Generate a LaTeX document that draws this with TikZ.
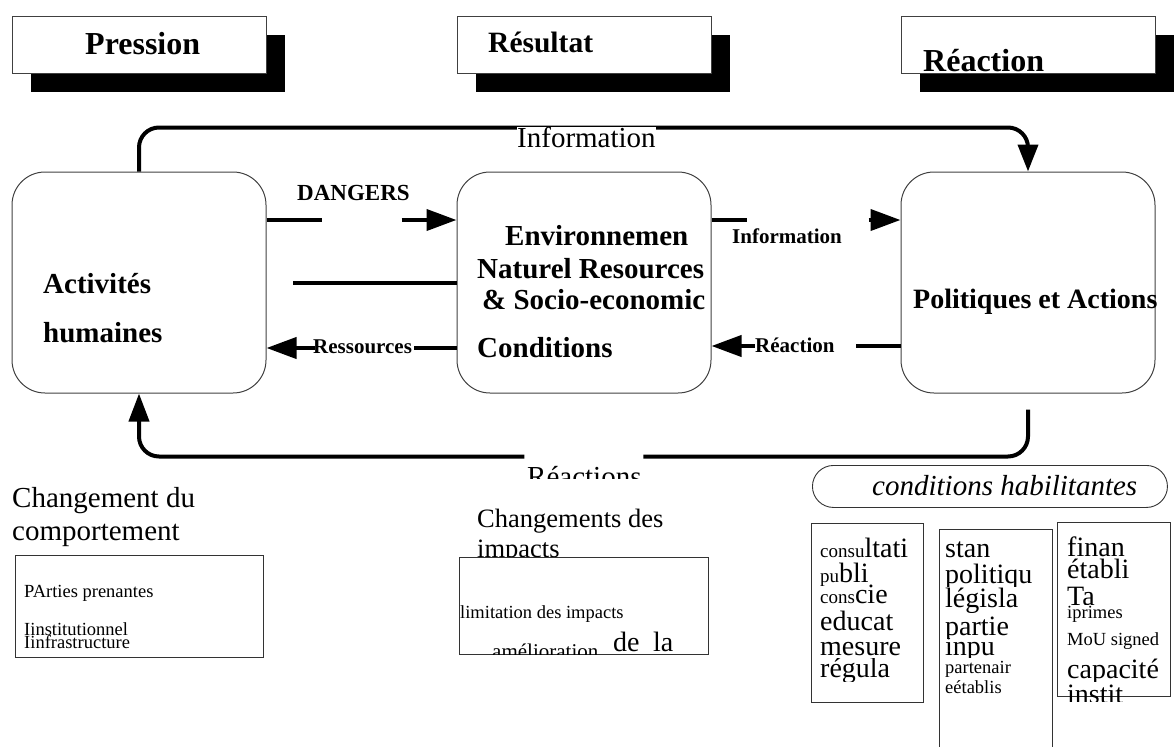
\documentclass[tikz,border=0pt]{standalone}
\usepackage{fontspec}
\setmainfont{Liberation Serif}
\usetikzlibrary{arrows.meta,shadows}
\tikzset{
  hdr/.style={draw=black!75, line width=0.9pt, fill=white, minimum width=254pt, minimum height=57pt, inner sep=0pt,
    drop shadow={shadow xshift=19pt, shadow yshift=-19pt, fill=black, opacity=1}},
  mainbox/.style={draw=black!75, line width=1pt, rounded corners=33pt, minimum width=254pt, minimum height=221pt, inner sep=0pt},
  wire/.style={line width=4pt},
  conn/.style={wire, -{Triangle[length=30pt,width=21pt]}},
  lbl/.style={inner sep=0pt, anchor=base west},
  pbox/.style={draw=black!80, line width=0.9pt, inner sep=0pt, anchor=north west},
  hfont/.style={font=\fontsize{32}{32}\selectfont\bfseries},
  bfont/.style={font=\fontsize{29}{29}\selectfont\bfseries},
  afont/.style={font=\fontsize{21}{21}\selectfont\bfseries},
  rfont/.style={font=\fontsize{29}{29}\selectfont},
  sfont/.style={font=\fontsize{18.5}{18.5}\selectfont},
  lfont/.style={font=\fontsize{28}{28}\selectfont}
}
\newcommand{\smtx}[1]{{\fontsize{19}{19}\selectfont #1}}
\begin{document}
\begin{tikzpicture}[x=1pt,y=-1pt]
\useasboundingbox (0,0) rectangle (1176,747);

% header boxes
\node[hdr] (hp) at (139,44.5) {};
\node[hdr] (hr) at (584,44.5) {};
\node[hdr] (hx) at (1028,44.5) {};
\node[lbl, hfont] (tp) at (85,54) {Pression};
\node[lbl, font=\fontsize{29.5}{29.5}\selectfont\bfseries] (tr) at (488,52) {Résultat};
\node[lbl, hfont] (tx) at (923,71) {Réaction};

% main boxes
\node[mainbox] (act) at (139,282.5) {};
\node[mainbox] (env) at (584,282.5) {};
\node[mainbox] (pol) at (1028,282.5) {};

\node[lbl, bfont] (a1) at (43,293) {Activités};
\node[lbl, bfont] (a2) at (43,342) {humaines};
\node[lbl, bfont] (e1) at (505,245) {Environnemen};
\node[lbl, bfont] (e2) at (477,278) {Naturel Resources};
\node[lbl, bfont] (e3) at (482,309) {\& Socio-economic};
\node[lbl, bfont] (e4) at (477,357) {Conditions};
\node[lbl, font=\fontsize{28}{28}\selectfont\bfseries] (p1) at (913,308) {Politiques et Actions};

% rows
\coordinate (r1) at (0,220);
\coordinate (r2) at (0,283);
\coordinate (r3) at (0,348);
\coordinate (r4) at (0,346);

% DANGERS
\draw[conn, dash pattern=on 55pt off 80pt on 200pt] (act.east |- r1) -- (env.west |- r1);
\node[lbl, font=\fontsize{23}{23}\selectfont\bfseries] (ldang) at (297,200) {DANGERS};
% middle plain line
\draw[wire, shorten >=26pt] (env.west |- r2) -- (act.east |- r2);
% Ressources
\draw[conn, dash pattern=on 43pt off 99pt on 200pt] (env.west |- r3) -- (act.east |- r3);
\node[lbl, afont] (lres) at (313,353) {Ressources};
% Information (middle)
\draw[conn, dash pattern=on 35pt off 122pt on 200pt] (env.east |- r1) -- (pol.west |- r1);
\node[lbl, afont] (linf) at (732,243) {Information};
% Reaction
\draw[conn, dash pattern=on 45pt off 101pt on 200pt] (pol.west |- r4) -- (env.east |- r4);
\node[lbl, afont] (lrea) at (755,352) {Réaction};

% top loop
\draw[wire, rounded corners=20pt, -{Triangle[length=27pt,width=20pt]}]
  (act.north) |- ([yshift=44pt]pol.north) -- (pol.north);
\node[lbl, rfont, fill=white] (ltop) at (517,147) {Information};

% bottom loop
\draw[wire, rounded corners=20pt, -{Triangle[length=28pt,width=20pt]}, dash pattern=on 423pt off 119pt on 1000pt]
  ([yshift=-16pt]pol.south) |- ([yshift=-63pt]act.south) -- (act.south);
\begin{scope}
  \clip (500,440) rectangle (680,478);
  \node[lbl, rfont] (lbot) at (527,486) {Réactions};
\end{scope}

% bottom left
\node[lbl, rfont] (cb1) at (12,507) {Changement du};
\node[lbl, rfont] (cb2) at (12,540) {comportement};
\node[pbox, minimum width=248pt, minimum height=102pt] (bl) at (15,555) {};
\node[lbl, sfont] (bl1) at (24,597) {PArties prenantes};
\node[lbl, sfont] (bl2) at (24,635) {Iinstitutionnel};
\node[lbl, sfont] (bl3) at (24,648) {Iinfrastructure};

% bottom middle
\node[lbl, font=\fontsize{26.5}{26.5}\selectfont] (cm1) at (477,527) {Changements des};
\node[lbl, font=\fontsize{26.5}{26.5}\selectfont] (cm2) at (477,557) {impacts};
\node[pbox, fill=white, minimum width=249pt, minimum height=97pt] (bm) at (459,557) {};
\node[lbl, sfont] (bm1) at (460,618) {limitation des impacts};
\begin{scope}
  \clip (459,600) rectangle (708,654);
  \node[lbl, font=\fontsize{21}{21}\selectfont] (bm2) at (492,658) {amélioration};
  \node[lbl, lfont] (bm3) at (613,651) {de};
  \node[lbl, lfont] (bm4) at (653,651) {la};
\end{scope}

% right: conditions habilitantes
\node[pbox, rounded corners=21pt, minimum width=355pt, minimum height=42pt] (cond) at (812,465) {};
\node[lbl, font=\fontsize{29}{29}\selectfont\itshape] (condt) at (872,495) {conditions habilitantes};

% box A
\node[pbox, minimum width=112pt, minimum height=179pt] (ba) at (811,523) {};
\node[lbl, lfont] (ba1) at (820,557) {\smtx{consu}ltati};
\begin{scope}\clip (811,560) rectangle (923,585);
\node[lbl, lfont] (ba2) at (820,582) {\smtx{pu}bli};
\end{scope}
\node[lbl, lfont] (ba3) at (820,603) {\smtx{cons}cie};
\node[lbl, lfont] (ba4) at (820,630) {educat};
\node[lbl, lfont] (ba5) at (820,655) {mesure};
\begin{scope}\clip (811,658) rectangle (923,681);
\node[lbl, lfont] (ba6) at (820,677) {régula};
\end{scope}

% box B
\node[pbox, minimum width=113pt, minimum height=240pt] (bb) at (939,529) {};
\node[lbl, lfont] (bb1) at (945,557) {stan};
\begin{scope}\clip (939,560) rectangle (1052,586);
\node[lbl, lfont] (bb2) at (945,583) {politiqu};
\end{scope}
\begin{scope}\clip (939,586) rectangle (1052,612);
\node[lbl, lfont] (bb3) at (945,607) {législa};
\end{scope}
\begin{scope}\clip (939,612) rectangle (1052,638);
\node[lbl, lfont] (bb4) at (945,635) {partie};
\end{scope}
\begin{scope}\clip (939,638) rectangle (1052,657);
\node[lbl, lfont] (bb5) at (945,655) {inpu};
\end{scope}
\node[lbl, sfont] (bb6) at (945,673) {partenair};
\node[lbl, sfont] (bb7) at (945,693) {eétablis};

% box C
\node[pbox, minimum width=113pt, minimum height=174pt] (bc) at (1057,522) {};
\node[lbl, lfont] (bc1) at (1067,556) {finan};
\node[lbl, lfont] (bc2) at (1067,578) {établi};
\begin{scope}\clip (1057,580) rectangle (1170,604);
\node[lbl, lfont] (bc3) at (1067,605) {Ta};
\end{scope}
\node[lbl, sfont] (bc4) at (1067,618) {iprimes};
\node[lbl, sfont] (bc5) at (1067,645) {MoU signed};
\begin{scope}\clip (1057,655) rectangle (1170,681);
\node[lbl, lfont] (bc6) at (1067,678) {capacité};
\end{scope}
\begin{scope}\clip (1057,681) rectangle (1170,701);
\node[lbl, lfont] (bc7) at (1067,703) {instit};
\end{scope}
\end{tikzpicture}
\end{document}
